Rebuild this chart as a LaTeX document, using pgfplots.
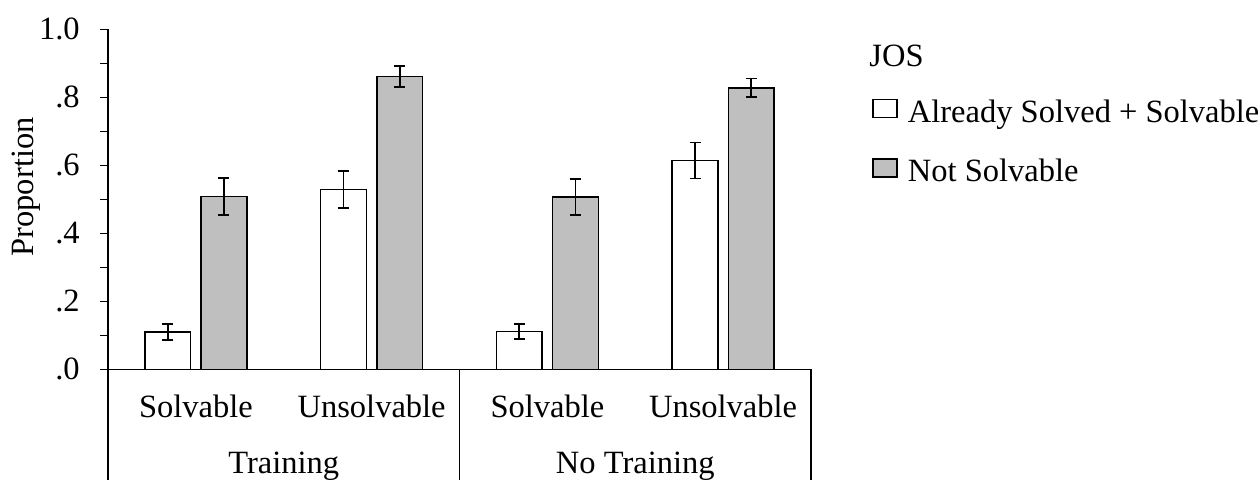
\documentclass[border=0pt]{standalone}
\usepackage{pgfplots}
\pgfplotsset{compat=1.18}
\usepackage{pgfplotstable}
\usepackage{fontspec}
\setmainfont{Liberation Serif}
\definecolor{barGray}{HTML}{BFBFBF}
\pgfplotstableread{
x w we g ge
0 0.109 0.024 0.508 0.055
1 0.529 0.055 0.861 0.030
2 0.111 0.022 0.507 0.053
3 0.614 0.053 0.828 0.027
}\datatab
\begin{document}
\begin{tikzpicture}[font=\fontsize{16.25}{19.5}\selectfont]
\begin{axis}[
  name=ax,
  scale only axis,
  width=351.5pt, height=170pt,
  xmin=-0.5, xmax=3.5, ymin=0, ymax=1,
  axis x line=bottom, axis y line=left,
  axis line style={-, line width=0.6pt, black},
  xtick={0,1,2,3},
  xticklabels={Solvable,Unsolvable,Solvable,Unsolvable},
  x tick style={draw=none},
  xticklabel style={anchor=base, yshift=-20pt},
  ytick={0,0.1,0.2,0.3,0.4,0.5,0.6,0.7,0.8,0.9,1.0},
  yticklabels={.0,,.2,,.4,,.6,,.8,,1.0},
  tick align=outside,
  major tick length=4pt,
  y tick style={line width=0.6pt, black},
  yticklabel style={xshift=-6.6pt},
  /pgf/number format/assume math mode=true,
  ylabel={Proportion},
  every axis y label/.style={at={(axis description cs:-0.1166,0.5365)}, rotate=90, anchor=center},
  ybar, bar width=0.261,
  legend style={draw=none, fill=none, at={(axis description cs:1.0868,0.806)}, anchor=north west, row sep=13pt, inner sep=0pt},
  legend cell align=left,
  legend image code/.code={\draw[#1, line width=0.75pt] (0pt,-2.5pt) rectangle (12pt,6.5pt); \path (15pt,0pt);},
]
\addplot[draw=black, line width=0.75pt, fill=white, bar shift=-0.16,
  error bars/.cd, y dir=both, y explicit,
  error bar style={line width=0.9pt, black},
  error mark options={rotate=90, mark size=2.75pt, line width=0.9pt, black}]
  table[x=x, y=w, y error=we] {\datatab};
\addlegendentry{Already Solved + Solvable}
\addplot[draw=black, line width=0.75pt, fill=barGray, bar shift=0.16,
  error bars/.cd, y dir=both, y explicit,
  error bar style={line width=0.9pt, black},
  error mark options={rotate=90, mark size=2.75pt, line width=0.9pt, black}]
  table[x=x, y=g, y error=ge] {\datatab};
\addlegendentry{Not Solvable}
\coordinate (s0) at (axis cs:-0.5,0);
\coordinate (s1) at (axis cs:1.5,0);
\coordinate (s2) at (axis cs:3.5,0);
\coordinate (g0) at (axis cs:0.5,0);
\coordinate (g1) at (axis cs:2.5,0);
\coordinate (tr) at (rel axis cs:1,1);
\coordinate (jos) at (axis description cs:1.0825,0.89);
\end{axis}
\draw[line width=0.6pt] (s0) -- ++(0,-55.35pt);
\draw[line width=0.6pt] (s1) -- ++(0,-55.35pt);
\draw[line width=0.6pt] (s2) -- ++(0,-55.35pt);
\node[anchor=base, yshift=-52pt] at (g0) {Training};
\node[anchor=base, yshift=-52pt] at (g1) {No Training};
\node[anchor=base west, inner sep=0pt] at (jos) {JOS};
\pgfresetboundingbox
\path ([xshift=-54pt,yshift=-55.35pt]s0) rectangle ([xshift=223.5pt,yshift=14.65pt]tr);
\end{tikzpicture}
\end{document}
